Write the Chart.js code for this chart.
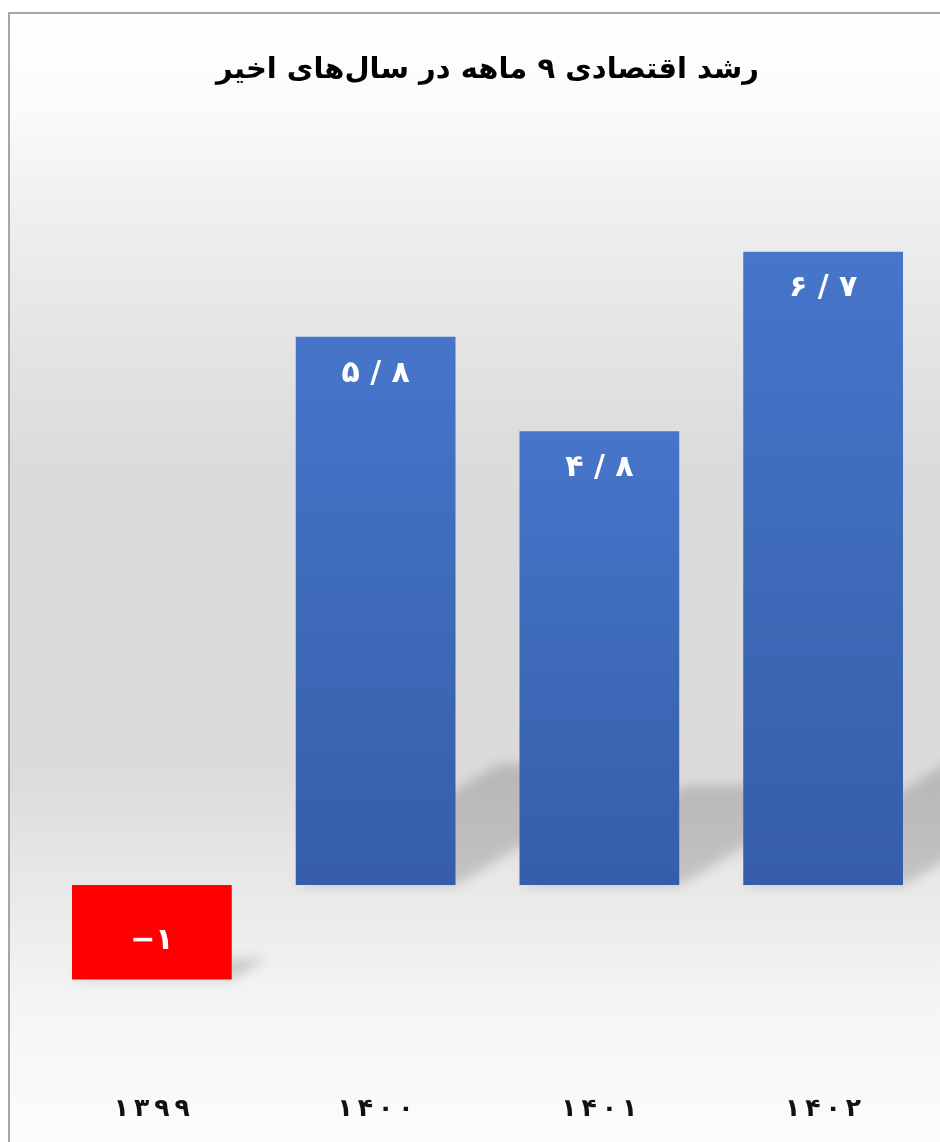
<!DOCTYPE html>
<html lang="fa">
<head>
<meta charset="utf-8">
<script src="https://cdn.jsdelivr.net/npm/chart.js@4"></script>
<style>
    html, body { margin: 0; padding: 0; background: #fff; }
    #wrap { width: 940px; height: 1142px; position: relative; }
</style>
</head>
<body>
<div id="wrap"><canvas id="chartRosd"></canvas></div>
<script>
const chartTitle = 'رشد اقتصادی ۹ ماهه در سال‌های اخیر';
const years = ['۱۳۹۹', '۱۴۰۰', '۱۴۰۱', '۱۴۰۲'];
const growth = [-1, 5.8, 4.8, 6.7];
const growthLabels = ['−۱', '۵ / ۸', '۴ / ۸', '۶ / ۷'];

const persianFont = '"DejaVu Sans", "Noto Sans", sans-serif';

// background panel with frame line on the left and top
const panelBackground = {
    id: 'panelBackground',
    beforeDraw(chart) {
        const ctx = chart.ctx;
        const w = chart.width, h = chart.height;
        ctx.save();
        ctx.fillStyle = '#ffffff';
        ctx.fillRect(0, 0, w, h);
        const g = ctx.createLinearGradient(0, 14, 0, h);
        g.addColorStop(0.00, '#ffffff');
        g.addColorStop(0.08, '#fbfbfb');
        g.addColorStop(0.17, '#f0f0f0');
        g.addColorStop(0.27, '#e6e6e6');
        g.addColorStop(0.40, '#dbdbdb');
        g.addColorStop(0.67, '#dbdbdb');
        g.addColorStop(0.77, '#e8e8e8');
        g.addColorStop(0.88, '#f5f5f5');
        g.addColorStop(1.00, '#fcfcfc');
        ctx.fillStyle = g;
        ctx.fillRect(10, 14, w - 10, h - 14);
        ctx.strokeStyle = '#a6a6a6';
        ctx.lineWidth = 2;
        ctx.beginPath();
        ctx.moveTo(9, h);
        ctx.lineTo(9, 13);
        ctx.lineTo(w, 13);
        ctx.stroke();
        ctx.restore();
    }
};

// perspective shadow of each bar, cast to the upper right
const barShadows = {
    id: 'barShadows',
    beforeDatasetsDraw(chart) {
        const ctx = chart.ctx;
        const meta = chart.getDatasetMeta(0);
        ctx.save();
        ctx.filter = 'blur(6px)';
        ctx.fillStyle = 'rgba(0,0,0,0.16)';
        meta.data.forEach((bar) => {
            const half = bar.width / 2;
            const left = bar.x - half, right = bar.x + half;
            const bottom = Math.max(bar.y, bar.base);
            const h = Math.abs(bar.base - bar.y);
            const dx = h * 0.37, dy = h * 0.22;
            ctx.beginPath();
            ctx.moveTo(left, bottom);
            ctx.lineTo(right, bottom);
            ctx.lineTo(right + dx, bottom - dy);
            ctx.lineTo(left + dx, bottom - dy);
            ctx.closePath();
            ctx.fill();
        });
        ctx.restore();
    }
};

// white value labels inside the bars
const barValues = {
    id: 'barValues',
    afterDatasetsDraw(chart) {
        const ctx = chart.ctx;
        const meta = chart.getDatasetMeta(0);
        ctx.save();
        ctx.fillStyle = '#ffffff';
        ctx.font = 'bold 30px ' + persianFont;
        ctx.textAlign = 'center';
        ctx.textBaseline = 'middle';
        ctx.direction = 'ltr';
        meta.data.forEach((bar, i) => {
            const y = growth[i] < 0 ? (bar.y + bar.base) / 2 + 9 : bar.y + 37;
            ctx.fillText(growthLabels[i], bar.x, y);
        });
        ctx.restore();
    }
};

function barColor(context) {
    const chart = context.chart;
    const value = growth[context.dataIndex];
    if (value < 0) return '#ff0000';
    if (!chart.chartArea) return '#4472c4';
    const yScale = chart.scales.y;
    const top = yScale.getPixelForValue(value);
    const base = yScale.getPixelForValue(0);
    const g = chart.ctx.createLinearGradient(0, top, 0, base);
    g.addColorStop(0, '#4675ca');
    g.addColorStop(1, '#365ea8');
    return g;
}

document.addEventListener('DOMContentLoaded', () => {
    const ctx = document.getElementById('chartRosd').getContext('2d');
    new Chart(ctx, {
        type: 'bar',
        data: {
            labels: years,
            datasets: [{
                data: growth,
                backgroundColor: barColor,
                borderWidth: 0,
                categoryPercentage: 0.714,
                barPercentage: 1.0
            }]
        },
        options: {
            responsive: true,
            maintainAspectRatio: false,
            animation: false,
            layout: { padding: { left: 40, right: 5, top: 0, bottom: -2 } },
            plugins: {
                legend: { display: false },
                tooltip: { enabled: false },
                title: {
                    display: true,
                    text: chartTitle,
                    color: '#000000',
                    font: { family: persianFont, size: 29, weight: 'bold' },
                    padding: { top: 53, bottom: 41 }
                }
            },
            scales: {
                x: {
                    grid: { display: false, drawTicks: false },
                    border: { display: false },
                    ticks: {
                        color: '#111111',
                        padding: 20,
                        font: { family: persianFont, size: 25, weight: 'bold' },
                        callback: function(value, index) {
                            return years[index].split('').join('\u2009');
                        }
                    }
                },
                y: {
                    display: false,
                    min: -2,
                    max: 8
                }
            }
        },
        plugins: [panelBackground, barShadows, barValues]
    });
});
</script>
</body>
</html>
